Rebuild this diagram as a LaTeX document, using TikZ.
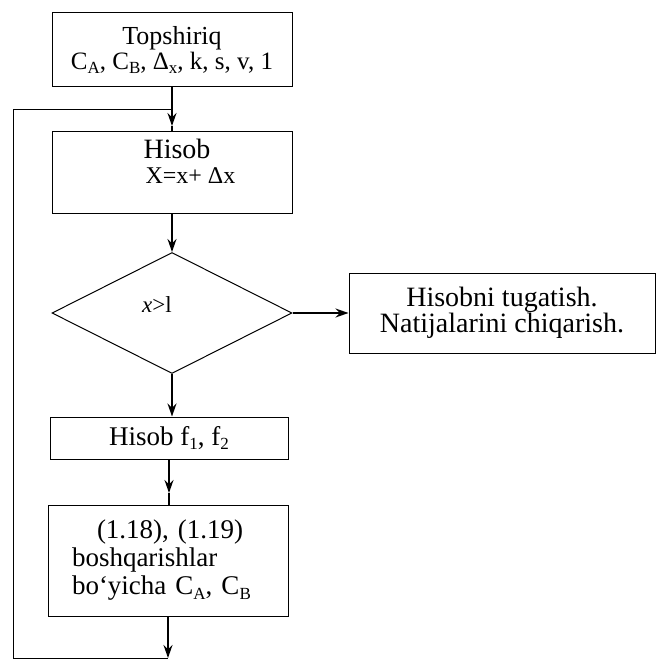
\documentclass[tikz,border=0pt]{standalone}
\usepackage{fontspec}
\setmainfont{Liberation Serif}
\usetikzlibrary{shapes.geometric,arrows.meta}
\newcommand{\mysub}[1]{\raisebox{-0.35ex}{\fontsize{17}{17}\selectfont #1}}
\begin{document}
\begin{tikzpicture}[x=1pt,y=-1pt,
  box/.style={draw,line width=1pt,inner sep=0pt,align=center},
  conn/.style={line width=1.4pt},
  arr/.style={line width=1.4pt,-{Stealth[length=13pt,width=9pt]}},
  bigtxt/.style={font=\fontsize{28}{26}\selectfont},
  midtxt/.style={font=\fontsize{27}{28}\selectfont}]
\useasboundingbox (0,0) rectangle (657,660);
% nodes
\node[box,minimum width=240pt,minimum height=74pt,font=\fontsize{26}{26}\selectfont] (top) at (172,50)
  {Topshiriq\\[-1pt]{\fontsize{25}{25}\selectfont C\mysub{A}, C\mysub{B}, Δ\mysub{x}, k, s, v, 1}};
\node[box,minimum width=240pt,minimum height=81pt,align=left,font=\fontsize{28}{25}\selectfont] (hisob) at (172,172.5)
  {\hspace*{35pt}Hisob\\\hspace*{37pt}{\fontsize{24}{24}\selectfont X=x+ Δx}\\[-2pt]};
\node[draw,line width=1pt,diamond,minimum width=240pt,minimum height=121pt,inner sep=0pt] (dec) at (172,313)
  {\raisebox{16pt}{\hspace*{-30pt}\fontsize{23}{23}\selectfont\itshape x\upshape>l}};
\node[box,minimum width=306pt,minimum height=80pt,bigtxt] (fin) at (502,313)
  {Hisobni tugatish.\\Natijalarini chiqarish.};
\node[box,minimum width=238pt,minimum height=42pt,font=\fontsize{27}{27}\selectfont] (hf) at (169,438)
  {Hisob f\mysub{1}, f\mysub{2}};
\node[box,minimum width=240pt,minimum height=111pt,align=left,text width=192pt,midtxt] (upd) at (168,560.5)
  {\hspace*{25pt}(1.18), (1.19)\\boshqarishlar\\bo‘yicha C\mysub{A}, C\mysub{B}};
% coordinates
\coordinate (tip1) at (172,126);
\coordinate (join) at (172,110);
\coordinate (tip2) at (169,493);
\coordinate (bot) at (168,658);
\coordinate (lb) at (13,658);
\coordinate (lt) at (13,110);
% connectors
\draw[arr] (top.south) -- (tip1);
\draw[conn] (tip1) -- (hisob.north);
\draw[arr] (hisob.south) -- (dec.north);
\draw[arr] (dec.east) -- (fin.west);
\draw[arr] (dec.south) -- (dec.south |- hf.north);
\draw[arr] (hf.south) -- (tip2);
\draw[conn] (tip2) -- (tip2 |- upd.north);
\draw[arr] (upd.south) -- (bot);
\draw[line width=1pt] (bot) -- (lb) -- (lt) -- (join);
\end{tikzpicture}
\end{document}
